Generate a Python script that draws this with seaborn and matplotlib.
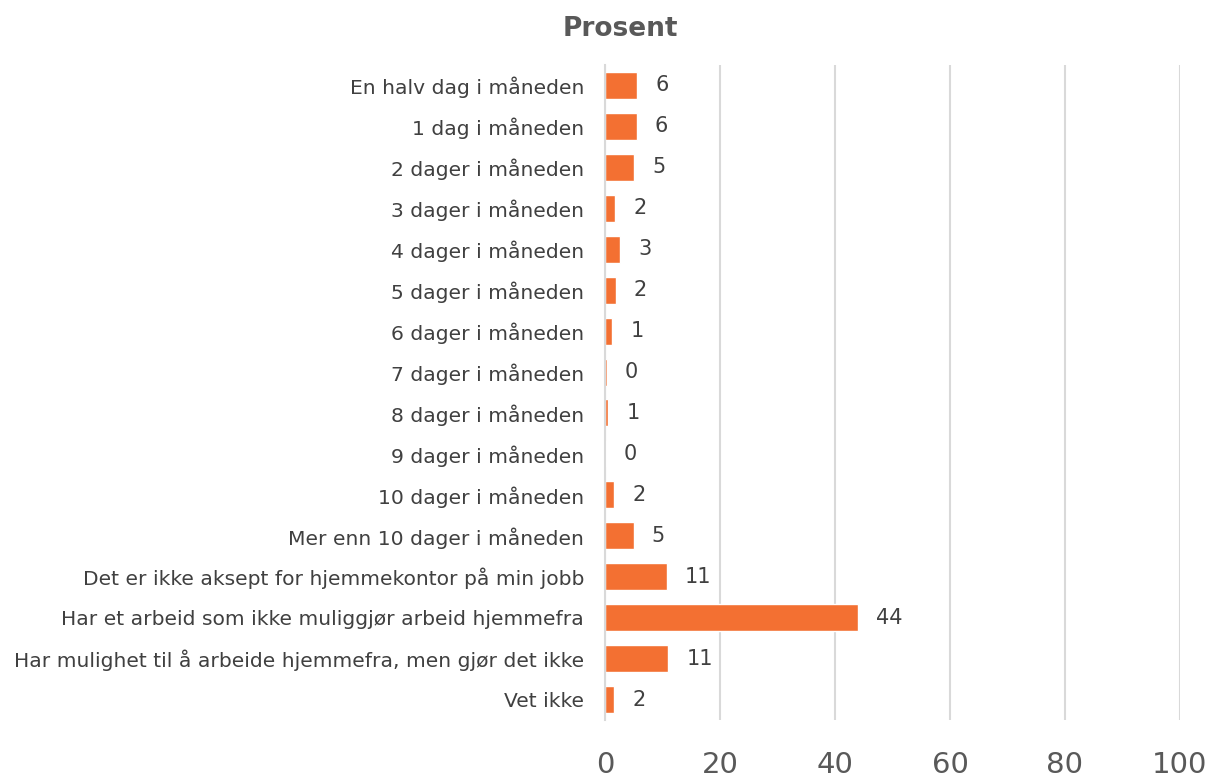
import matplotlib
matplotlib.use("Agg")
import matplotlib.pyplot as plt
import seaborn as sns
import pandas as pd

categories = [
    "En halv dag i måneden",
    "1 dag i måneden",
    "2 dager i måneden",
    "3 dager i måneden",
    "4 dager i måneden",
    "5 dager i måneden",
    "6 dager i måneden",
    "7 dager i måneden",
    "8 dager i måneden",
    "9 dager i måneden",
    "10 dager i måneden",
    "Mer enn 10 dager i måneden",
    "Det er ikke aksept for hjemmekontor på min jobb",
    "Har et arbeid som ikke muliggjør arbeid hjemmefra",
    "Har mulighet til å arbeide hjemmefra, men gjør det ikke",
    "Vet ikke",
]
values = [5.6, 5.5, 5.1, 1.8, 2.6, 1.9, 1.3, 0.3, 0.6, 0.1, 1.6, 5.0, 10.8, 44.0, 11.0, 1.6]
labels = ["6", "6", "5", "2", "3", "2", "1", "0", "1", "0", "2", "5", "11", "44", "11", "2"]
xticks = [0, 20, 40, 60, 80, 100]

sns.set_style("white")
plt.rcParams["font.family"] = ["DejaVu Sans"]

df = pd.DataFrame({"cat": categories, "val": values})

fig = plt.figure(figsize=(12.09, 7.77), dpi=100)
ax = fig.add_axes([605 / 1209, 1 - 720 / 777, (1180 - 605) / 1209, (720 - 65) / 777])

sns.barplot(data=df, y="cat", x="val", orient="h", color="#F37032",
            saturation=1, width=0.66, ax=ax, zorder=3)

ax.set_xlim(0, 100)
ax.set_ylim(15.5, -0.5)
ax.set_xticks(xticks)
ax.set_xticklabels([str(t) for t in xticks])
ax.grid(axis="x", color="#D9D9D9", linewidth=1.5, zorder=0)
ax.grid(axis="y", visible=False)
for s in ["top", "right", "bottom"]:
    ax.spines[s].set_visible(False)
ax.spines["left"].set_color("#D9D9D9")
ax.spines["left"].set_linewidth(1.5)
ax.spines["left"].set_zorder(4)
ax.set_xlabel("")
ax.set_ylabel("")
ax.tick_params(axis="x", length=0, pad=22, labelsize=21, labelcolor="#595959")
ax.tick_params(axis="y", length=0, pad=15, labelsize=14.6, labelcolor="#404040")

for i, (v, lab) in enumerate(zip(values, labels)):
    ax.annotate(lab, xy=(v, i), xytext=(13, 0), textcoords="offset points",
                ha="left", va="center", fontsize=15, color="#404040")

fig.text(620 / 1209, 1 - 29 / 777, "Prosent", ha="center", va="center",
         fontsize=19, fontweight="bold", color="#595959")

fig.savefig("out.png", dpi=100)
